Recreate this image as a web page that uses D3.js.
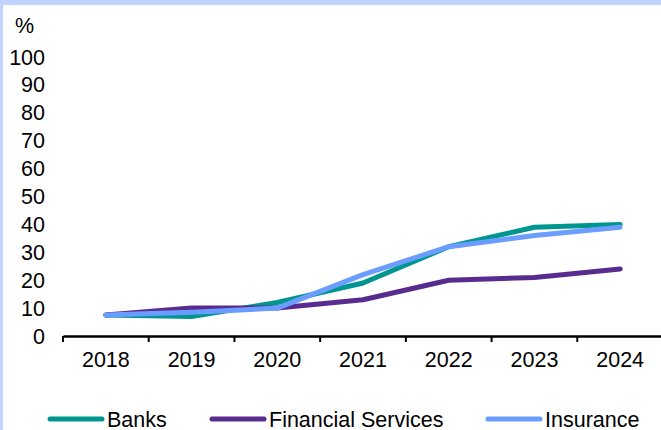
<!DOCTYPE html>
<html>
<head>
<meta charset="utf-8">
<script src="https://cdn.jsdelivr.net/npm/d3@7"></script>
<style>
  body { margin: 0; }
  svg { display: block; font-family: "Liberation Sans", Arial, sans-serif; }
</style>
</head>
<body>
<div id="chart"></div>
<script>
// Chart data
const years = ["2018", "2019", "2020", "2021", "2022", "2023", "2024"];
const banks = [7.5, 7, 12, 19, 32, 39, 40];
const financialServices = [7.5, 10, 10, 13, 20, 21, 24];
const insurance = [7.5, 8.5, 10, 22, 32, 36, 39];
const yTicks = [0, 10, 20, 30, 40, 50, 60, 70, 80, 90, 100];

const series = [
  { name: "Banks", values: banks, color: "#009690" },
  { name: "Financial Services", values: financialServices, color: "#582c8f" },
  { name: "Insurance", values: insurance, color: "#6a9dff" }
];

const width = 661;
const height = 430;
const fontSize = 21.5;

const svg = d3
  .select("#chart")
  .append("svg")
  .attr("width", width)
  .attr("height", height);

// light blue frame on top and left
svg.append("rect").attr("width", width).attr("height", height).attr("fill", "#c0d4ff");
svg.append("rect").attr("x", 3).attr("y", 5).attr("width", width - 3).attr("height", height - 5).attr("fill", "#fff");

const x = d3.scaleBand().domain(years).range([63, 663]);
const y = d3.scaleLinear().domain([0, 100]).range([336, 57]);

// y labels (no axis line)
svg
  .selectAll("text.ytick")
  .data(yTicks)
  .enter()
  .append("text")
  .attr("class", "ytick")
  .attr("x", 45)
  .attr("y", (d) => y(d))
  .attr("dy", "0.35em")
  .attr("text-anchor", "end")
  .attr("font-size", fontSize)
  .text((d) => d);

svg.append("text").attr("x", 15).attr("y", 33).attr("font-size", fontSize).text("%");

// x axis
const xAxis = svg
  .append("g")
  .attr("transform", `translate(0,${y(0)})`)
  .call(d3.axisBottom(x).tickSize(0).tickPadding(16));
xAxis.select(".domain").attr("stroke", "#000").attr("stroke-width", 2.5);
xAxis.selectAll("text").attr("font-size", fontSize).attr("fill", "#000").attr("font-family", "Liberation Sans, Arial, sans-serif");

// tick marks between categories
svg
  .selectAll("line.xtick")
  .data(years.concat(["end"]))
  .enter()
  .append("line")
  .attr("class", "xtick")
  .attr("x1", (d, i) => (i < years.length ? x(d) : x.range()[1] - 1))
  .attr("x2", (d, i) => (i < years.length ? x(d) : x.range()[1] - 1))
  .attr("y1", y(0))
  .attr("y2", y(0) + 6)
  .attr("stroke", "#000")
  .attr("stroke-width", 2);

// lines
const line = d3
  .line()
  .x((d, i) => x(years[i]) + x.bandwidth() / 2)
  .y((d) => y(d));

svg
  .selectAll("path.series")
  .data(series)
  .enter()
  .append("path")
  .attr("class", "series")
  .attr("d", (d) => line(d.values))
  .attr("fill", "none")
  .attr("stroke", (d) => d.color)
  .attr("stroke-width", 5)
  .attr("stroke-linecap", "round")
  .attr("stroke-linejoin", "round");

// legend
const legendX = [49, 211, 487];
const legend = svg
  .selectAll("g.legend")
  .data(series)
  .enter()
  .append("g")
  .attr("class", "legend")
  .attr("transform", (d, i) => `translate(${legendX[i]},419)`);

legend
  .append("line")
  .attr("x1", 1)
  .attr("x2", 53)
  .attr("stroke", (d) => d.color)
  .attr("stroke-width", 5)
  .attr("stroke-linecap", "round");

legend
  .append("text")
  .attr("x", 58)
  .attr("dy", "0.35em")
  .attr("font-size", fontSize)
  .text((d) => d.name);
</script>
</body>
</html>
